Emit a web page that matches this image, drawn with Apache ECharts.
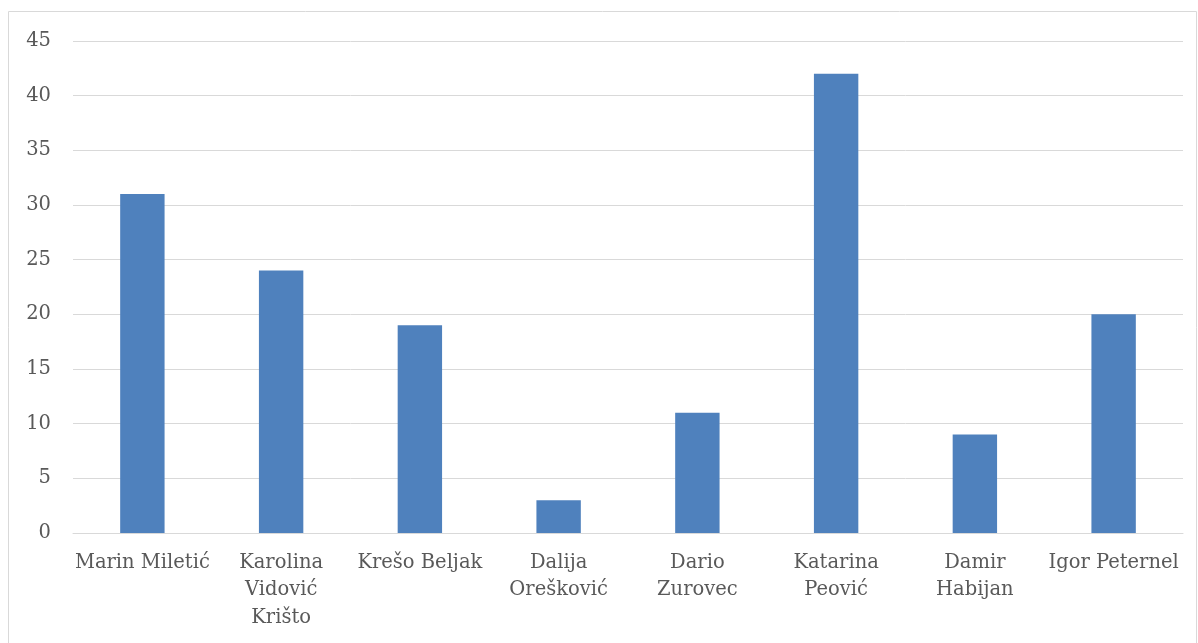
<!DOCTYPE html>
<html>
<head>
<meta charset="utf-8">
<script src="https://cdn.jsdelivr.net/npm/echarts@6/dist/echarts.min.js"></script>
<style>
  html, body { margin: 0; padding: 0; background: #fff; }
  #main { width: 1198px; height: 643px; }
</style>
</head>
<body>
<div id="main"></div>
<script>
  var names = ['Marin Miletić', 'Karolina\nVidović\nKrišto', 'Krešo Beljak', 'Dalija\nOrešković',
    'Dario\nZurovec', 'Katarina\nPeović', 'Damir\nHabijan', 'Igor Peternel'];
  var values = [31, 24, 19, 3, 11, 42, 9, 20];

  var font = 'DejaVu Serif';
  var myChart = echarts.init(document.getElementById('main'));
  var option = {
    animation: false,
    graphic: [{
      type: 'rect',
      shape: {x: 8.5, y: 11.5, width: 1188, height: 640},
      style: {fill: 'none', stroke: '#d9d9d9', lineWidth: 1}
    }],
    grid: {left: 73, right: 15, top: 41, bottom: 110},
    xAxis: {
      type: 'category',
      data: names,
      axisLine: {lineStyle: {color: '#d9d9d9', width: 1}},
      axisTick: {show: false},
      axisLabel: {
        color: '#595959', fontFamily: font, fontSize: 19.5, lineHeight: 27.5, margin: 16, interval: 0
      }
    },
    yAxis: {
      type: 'value',
      min: 0, max: 45, interval: 5,
      axisLine: {show: false},
      axisTick: {show: false},
      splitLine: {lineStyle: {color: '#d9d9d9', width: 1}},
      axisLabel: {color: '#595959', fontFamily: font, fontSize: 19.5, margin: 22}
    },
    series: [{
      type: 'bar',
      data: values,
      barWidth: '32%',
      itemStyle: {color: '#4f81bd'}
    }]
  };
  myChart.setOption(option, true);
</script>
</body>
</html>
